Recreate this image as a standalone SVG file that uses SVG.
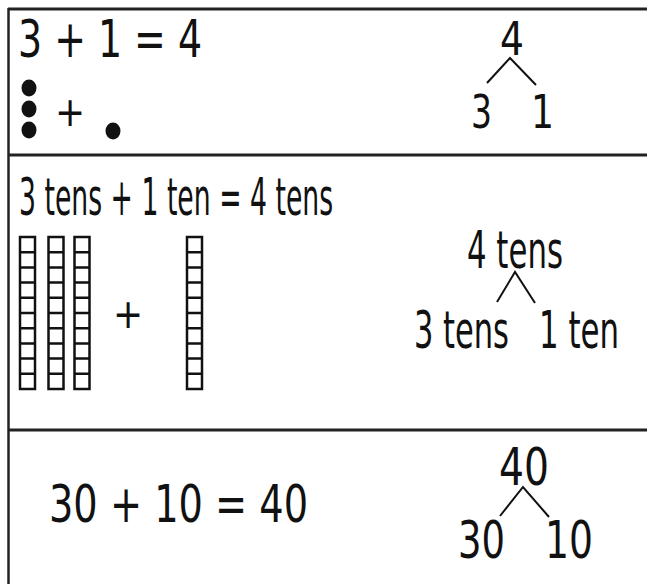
<svg xmlns="http://www.w3.org/2000/svg" width="647" height="584" viewBox="0 0 647 584">
<style>
  .t { font-family: "DejaVu Sans Condensed", "DejaVu Sans", sans-serif; fill: #111; }
  .eq { font-size: 51px; }
  .bn { font-size: 47px; }
  .rule { stroke: #222; fill: none; }
  .bond { stroke: #111; stroke-width: 2; fill: none; }
  .cell { stroke: #111; stroke-width: 2.5; fill: #fff; }
  .dot { fill: #111; }
</style>
<defs>
  <g id="rod">
    <rect class="cell" x="0" y="0" width="15" height="152"/>
    <path class="cell" d="M0 15.2H15M0 30.4H15M0 45.6H15M0 60.8H15M0 76H15M0 91.2H15M0 106.4H15M0 121.6H15M0 136.8H15"/>
  </g>
</defs>
<rect x="0" y="0" width="647" height="584" fill="#fff"/>
<g id="frame">
  <line class="rule" x1="8" y1="9" x2="647" y2="9" stroke-width="3" stroke="#000"/>
  <line class="rule" x1="8.5" y1="8" x2="8.5" y2="584" stroke-width="2.5" stroke="#000"/>
  <line class="rule" x1="8" y1="155" x2="647" y2="155" stroke-width="3"/>
  <line class="rule" x1="8" y1="430" x2="647" y2="430" stroke-width="3"/>
</g>
<g id="row1-equation">
  <text class="t eq" transform="translate(18,57) scale(0.826,1)" x="0" y="0" textLength="222.8" lengthAdjust="spacingAndGlyphs">3 + 1 = 4</text>
</g>
<g id="row1-dots">
  <ellipse class="dot" cx="29" cy="88" rx="7.5" ry="8.5"/>
  <ellipse class="dot" cx="29" cy="109" rx="7.5" ry="8.5"/>
  <ellipse class="dot" cx="29" cy="130" rx="7.5" ry="8.5"/>
  <text class="t" x="70" y="126" font-size="40" text-anchor="middle">+</text>
  <ellipse class="dot" cx="113" cy="131" rx="7.5" ry="8.5"/>
</g>
<g id="row1-bond-top"><text class="t bn" transform="translate(500,55) scale(0.89,1)" x="0" y="0" textLength="26.9" lengthAdjust="spacingAndGlyphs">4</text></g>
<g id="row1-bond-left"><text class="t bn" transform="translate(471,128) scale(0.78,1)" x="0" y="0" textLength="26.9" lengthAdjust="spacingAndGlyphs">3</text></g>
<g id="row1-bond-right"><text class="t bn" transform="translate(531,128) scale(0.855,1)" x="0" y="0" textLength="26.9" lengthAdjust="spacingAndGlyphs">1</text></g>

<g id="row2-equation">
  <text class="t eq" transform="translate(19,215) scale(0.566,1)" x="0" y="0" textLength="555" lengthAdjust="spacingAndGlyphs">3 tens + 1 ten = 4 tens</text>
</g>
<g id="row2-blocks">
  <use href="#rod" x="20" y="237"/>
  <use href="#rod" x="48.5" y="237"/>
  <use href="#rod" x="74.5" y="237"/>
  <text class="t" x="128" y="328" font-size="40" text-anchor="middle">+</text>
  <use href="#rod" x="187" y="237"/>
</g>
<g id="row2-bond-top"><text class="t eq" transform="translate(467,268) scale(0.671,1)" x="0" y="0" textLength="143" lengthAdjust="spacingAndGlyphs">4 tens</text></g>
<g id="row2-bond-left"><text class="t eq" transform="translate(414,348) scale(0.664,1)" x="0" y="0" textLength="143" lengthAdjust="spacingAndGlyphs">3 tens</text></g>
<g id="row2-bond-right"><text class="t eq" transform="translate(539,348) scale(0.672,1)" x="0" y="0" textLength="119" lengthAdjust="spacingAndGlyphs">1 ten</text></g>

<g id="row3-equation">
  <text class="t eq" transform="translate(49,522) scale(0.835,1)" x="0" y="0" textLength="310.3" lengthAdjust="spacingAndGlyphs">30 + 10 = 40</text>
</g>
<g id="row3-bond-top"><text class="t eq" transform="translate(499,485) scale(0.857,1)" x="0" y="0" textLength="58.3" lengthAdjust="spacingAndGlyphs">40</text></g>
<g id="row3-bond-left"><text class="t eq" transform="translate(458,558) scale(0.806,1)" x="0" y="0" textLength="58.3" lengthAdjust="spacingAndGlyphs">30</text></g>
<g id="row3-bond-right"><text class="t eq" transform="translate(545,558) scale(0.823,1)" x="0" y="0" textLength="58.3" lengthAdjust="spacingAndGlyphs">10</text></g>

<g id="connectors">
  <polyline class="bond" points="487,83 510,58 536,85"/>
  <polyline class="bond" points="497,302 515,272 535,303"/>
  <polyline class="bond" points="500,516 523,487 549,517"/>
</g>
</svg>
